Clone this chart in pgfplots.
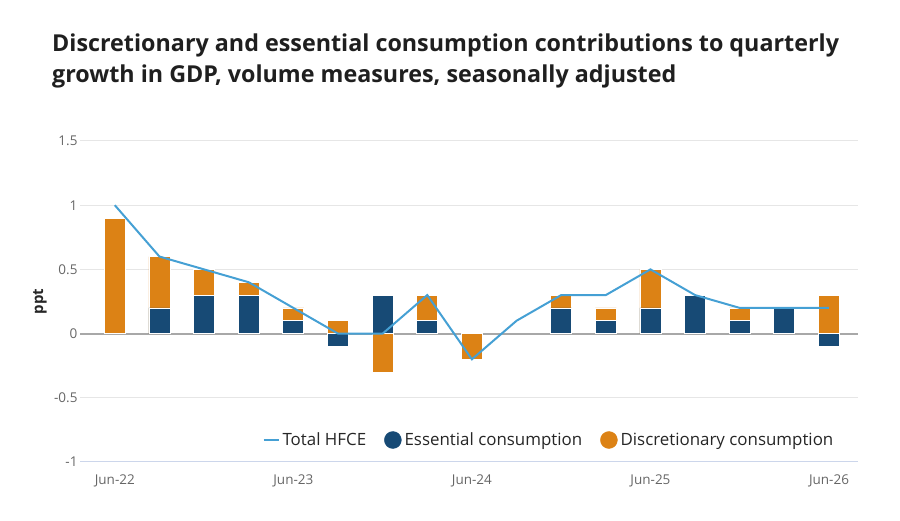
\documentclass[border=0pt]{standalone}
\usepackage{fontspec}
\setmainfont{Open Sans}
\usepackage{pgfplots}
\pgfplotsset{compat=1.18}
\definecolor{ess}{HTML}{174A75}
\definecolor{disc}{HTML}{DC8215}
\definecolor{tot}{HTML}{45A0D4}
\definecolor{lab}{HTML}{666666}
\definecolor{gridc}{HTML}{E6E6E6}
\definecolor{axc}{HTML}{CCD6EB}
\definecolor{zeroc}{HTML}{A8A8A8}
\pgfplotsset{
  circleleg/.style={legend image code/.code={\fill[##1] (8.5pt,0pt) circle (8.5pt);}},
  lineleg/.style={legend image code/.code={\draw[##1] (0pt,0pt) -- (15pt,0pt);}},
}
\begin{document}
\begin{tikzpicture}[x=1pt,y=1pt]
\useasboundingbox (0,0) rectangle (900,521);
\node[anchor=base west, inner sep=0pt, font=\fontsize{23.3}{30}\selectfont\bfseries, text=black!88] at (52,469) {Discretionary and essential consumption contributions to quarterly};
\node[anchor=base west, inner sep=0pt, font=\fontsize{23.3}{30}\selectfont\bfseries, text=black!88] at (52,438) {growth in GDP, volume measures, seasonally adjusted};
\begin{axis}[
  at={(80pt,59pt)}, anchor=south west,
  scale only axis, width=778pt, height=321pt,
  xmin=-0.78, xmax=16.65, ymin=-1, ymax=1.5,
  ytick={-1,-0.5,0,0.5,1,1.5},
  yticklabels={-1,-0.5,0,0.5,1,1.5},
  xtick={0,4,8,12,16},
  xticklabels={Jun-22,Jun-23,Jun-24,Jun-25,Jun-26},
  major tick length=0pt,
  axis line style={draw=none},
  ymajorgrids, grid style={gridc, line width=1pt},
  tick label style={text=lab, font=\fontsize{13.5}{15}\selectfont},
  yticklabel style={xshift=1pt},
  xticklabel style={yshift=-9pt},
  ylabel={ppt},
  ylabel style={at={(rel axis cs:-0.0514,0.5)}, anchor=center, font=\fontsize{15}{17}\selectfont\bfseries, text=black!85},
  legend style={at={(rel axis cs:0.975,0.0685)}, anchor=east, draw=none, fill=none, legend columns=-1,
    font=\fontsize{16.9}{19}\selectfont, text=black!85,
    /tikz/every odd column/.append style={column sep=1pt},
    /tikz/every even column/.append style={column sep=16pt}},
  clip=false,
]
\draw[zeroc, line width=2pt] (axis cs:-0.78,0) -- (axis cs:16.65,0);
\draw[axc, line width=1pt] (rel axis cs:0,0) -- (rel axis cs:1,0);
% discretionary positive (stacked on top of essential positive): total positive height
\addplot[ybar, bar shift=0pt, bar width=21pt, fill=disc, draw=white, line width=0.8pt, forget plot] coordinates {
(0,0.9) (1,0.6) (2,0.5) (3,0.4) (4,0.2) (5,0.1) (7,0.3) (10,0.3) (11,0.2) (12,0.5) (14,0.2) (16,0.3)};
% essential positive
\addplot[ybar, bar shift=0pt, bar width=21pt, fill=ess, draw=white, line width=0.8pt, forget plot] coordinates {
(1,0.2) (2,0.3) (3,0.3) (4,0.1) (6,0.3) (7,0.1) (10,0.2) (11,0.1) (12,0.2) (13,0.3) (14,0.1) (15,0.2)};
% discretionary negative
\addplot[ybar, bar shift=0pt, bar width=21pt, fill=disc, draw=white, line width=0.8pt, forget plot] coordinates {
(6,-0.3) (8,-0.2)};
% essential negative
\addplot[ybar, bar shift=0pt, bar width=21pt, fill=ess, draw=white, line width=0.8pt, forget plot] coordinates {
(5,-0.1) (16,-0.1)};
% total HFCE
\addplot[tot, line width=2pt, mark=none, forget plot] coordinates {
(0,1.0) (1,0.6) (2,0.5) (3,0.4) (4,0.2) (5,0.0) (6,0.0) (7,0.3) (8,-0.2) (9,0.1) (10,0.3) (11,0.3) (12,0.5) (13,0.3) (14,0.2) (15,0.2) (16,0.2)};
\addlegendimage{tot, line width=2pt, lineleg}
\addlegendentry{Total HFCE}
\addlegendimage{ess, circleleg}
\addlegendentry{Essential consumption}
\addlegendimage{disc, circleleg}
\addlegendentry{Discretionary consumption}
\end{axis}
\end{tikzpicture}
\end{document}
